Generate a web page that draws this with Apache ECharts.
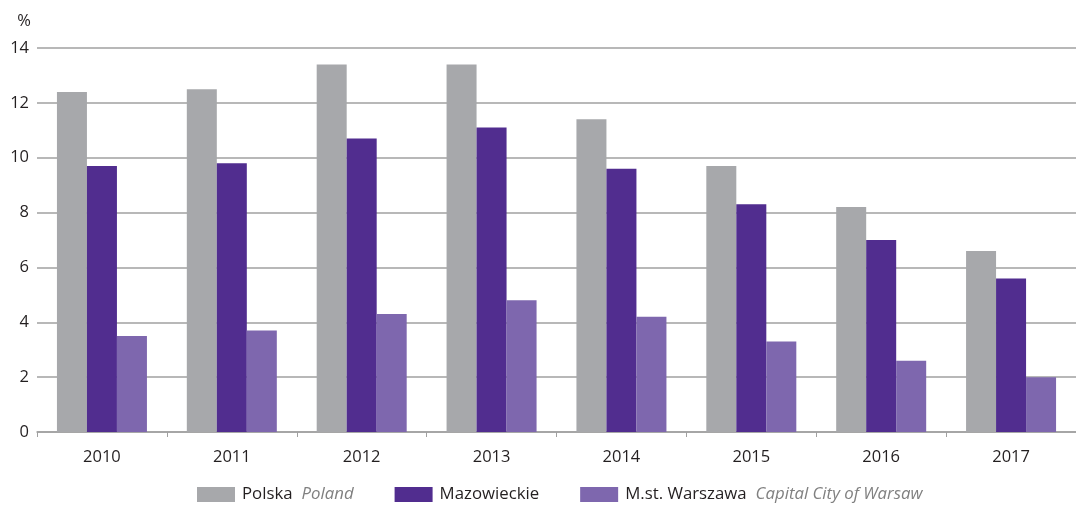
<!DOCTYPE html>
<html><head><meta charset="utf-8">
<script src="https://cdn.jsdelivr.net/npm/echarts@6/dist/echarts.min.js"></script>
<style>html,body{margin:0;padding:0;background:#fff}#c{width:1076px;height:505px}</style>
</head><body><div id="c"></div>
<script>
const categories = ['2010','2011','2012','2013','2014','2015','2016','2017'];
const polska = [12.4, 12.5, 13.4, 13.4, 11.4, 9.7, 8.2, 6.6];
const mazowieckie = [9.7, 9.8, 10.7, 11.1, 9.6, 8.3, 7.0, 5.6];
const warszawa = [3.5, 3.7, 4.3, 4.8, 4.2, 3.3, 2.6, 2.0];
const seriesNames = ['Polska', 'Mazowieckie', 'M.st. Warszawa'];
const seriesEnglish = {'Polska': 'Poland', 'Mazowieckie': '', 'M.st. Warszawa': 'Capital City of Warsaw'};
const colors = ['#a7a8ab', '#512d8f', '#7e67ae'];
const FONT = '"Open Sans", "Noto Sans", sans-serif';

const chart = echarts.init(document.getElementById('c'));
const mk = (name, data, color) => ({
  name, type: 'bar', data, barWidth: 30, barGap: '0%',
  itemStyle: {color}, animation: false
});
chart.setOption({
  animation: false,
  textStyle: {fontFamily: FONT},
  grid: {left: 37, right: 0, top: 48, bottom: 73, containLabel: false},
  legend: {
    top: 486, left: 197, padding: 0, itemWidth: 38, itemHeight: 15, itemGap: 41,
    icon: 'rect',
    data: seriesNames,
    formatter: n => seriesEnglish[n] ? '{a|' + n + '}{b|' + seriesEnglish[n] + '}' : '{a|' + n + '}',
    textStyle: {
      padding: [0, 0, 0, 2],
      rich: {
        a: {fontFamily: FONT, fontSize: 16.8, lineHeight: 18, color: '#231f20'},
        b: {fontFamily: FONT, fontSize: 16.8, lineHeight: 18, color: '#808080', fontStyle: 'italic', padding: [0, 0, 0, 9]}
      }
    }
  },
  xAxis: {
    type: 'category', data: categories,
    axisLine: {lineStyle: {color: '#a0a0a0', width: 1.5}},
    axisTick: {show: true, lineStyle: {color: '#a0a0a0'}, length: 5},
    axisLabel: {color: '#231f20', fontSize: 16.5, margin: 17, fontFamily: FONT}
  },
  yAxis: {
    type: 'value', min: 0, max: 14, interval: 2,
    name: '%', nameLocation: 'end', nameGap: 18,
    nameTextStyle: {color: '#231f20', fontSize: 16.5, align: 'right', padding: [0, 6, 0, 0], fontFamily: FONT},
    axisLine: {show: false}, axisTick: {show: false},
    axisLabel: {color: '#231f20', fontSize: 16.5, margin: 8, fontFamily: FONT},
    splitLine: {lineStyle: {color: '#a0a0a0', width: 1.5}}
  },
  series: [mk(seriesNames[0], polska, colors[0]), mk(seriesNames[1], mazowieckie, colors[1]), mk(seriesNames[2], warszawa, colors[2])]
});
</script></body></html>
